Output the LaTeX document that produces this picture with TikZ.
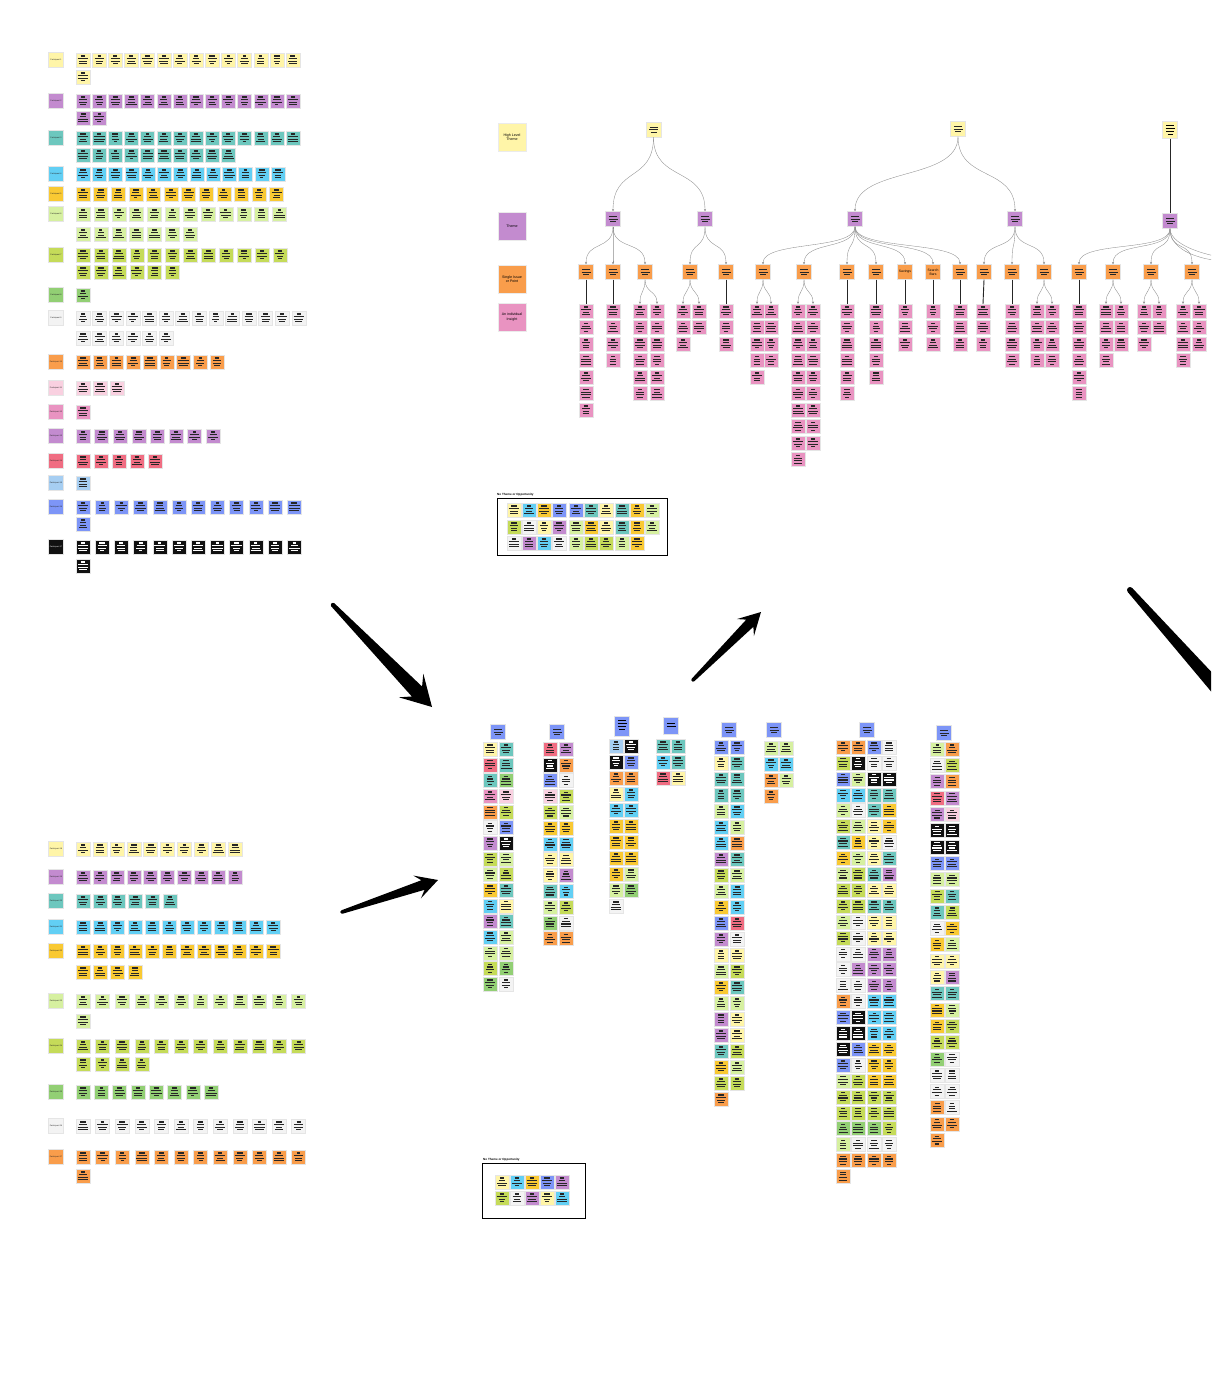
\documentclass[tikz,border=0pt]{standalone}
\usepackage{fontspec}
\setmainfont{Liberation Sans}
\usetikzlibrary{arrows.meta}
\definecolor{nY}{HTML}{FFF5A8}
\definecolor{nP}{HTML}{C38BCF}
\definecolor{nT}{HTML}{6DC7BE}
\definecolor{nC}{HTML}{62CFF4}
\definecolor{nO}{HTML}{F9C933}
\definecolor{nL}{HTML}{D6F0A0}
\definecolor{nG}{HTML}{C5DB59}
\definecolor{nN}{HTML}{92CF74}
\definecolor{nW}{HTML}{F3F3F3}
\definecolor{nR}{HTML}{F99D4B}
\definecolor{nS}{HTML}{F9D0E0}
\definecolor{nK}{HTML}{E993C1}
\definecolor{nE}{HTML}{F06D82}
\definecolor{nA}{HTML}{A6CEF2}
\definecolor{nB}{HTML}{7D95F7}
\definecolor{nZ}{HTML}{111111}
\colorlet{tY}{black!85}\colorlet{tP}{black!85}\colorlet{tT}{black!85}\colorlet{tC}{black!85}
\colorlet{tO}{black!85}\colorlet{tL}{black!85}\colorlet{tG}{black!85}\colorlet{tN}{black!85}
\colorlet{tW}{black!85}\colorlet{tR}{black!85}\colorlet{tS}{black!85}\colorlet{tK}{black!85}
\colorlet{tE}{black!85}\colorlet{tA}{black!85}\colorlet{tB}{black!85}\colorlet{tZ}{white}
\tikzset{
  note/.style={rectangle,minimum size=14,inner sep=0,draw=black!10,line width=0.3},
  tnode/.style={rectangle,minimum size=15,inner sep=0,draw=black!10,line width=0.3},
  lab/.style={rectangle,minimum size=15,inner sep=0,draw=black!10,line width=0.3,font=\fontsize{2}{2.4}\selectfont},
  leg/.style={rectangle,minimum size=28,inner sep=0,draw=black!8,line width=0.3,align=center,font=\fontsize{3.6}{4.2}\selectfont},
  mk/.style={line width=1.15},
  cur/.style={draw=black!45,line width=0.35,-{Stealth[length=2.4,width=2.2]}},
  stem/.style={draw=black!85,line width=0.9},
  boxlabel/.style={anchor=south west,inner sep=0,font=\fontsize{3}{3.5}\selectfont\bfseries},
  nobox/.style={draw=black,line width=1,rectangle,inner sep=0}
}
\pgfmathsetseed{11}
% sticky note with text-like marks of varied length
\newcommand\snote[4]{%
  \node[note,fill=n#4] (#1) at (#2,#3) {};
  \pgfmathsetmacro\ma{1.5+1.5*rnd}%
  \pgfmathsetmacro\mb{3+2.5*rnd}%
  \pgfmathsetmacro\mc{3+2.5*rnd}%
  \pgfmathsetmacro\md{1.5+4*rnd}%
  \draw[mk,draw=t#4] ({#2-\ma},{#3-4}) -- ({#2+\ma},{#3-4}) ({#2-\mb},{#3-1.4}) -- ({#2+\mb},{#3-1.4}) ({#2-\mc},{#3+1.2}) -- ({#2+\mc},{#3+1.2}) ({#2-\md},{#3+3.8}) -- ({#2+\md},{#3+3.8});}
\newcommand\tnote[4]{%
  \node[tnode,fill=n#4] (#1) at (#2,#3) {};
  \draw[mk,line width=0.9,draw=t#4] ({#2-4},{#3-2.5}) -- ({#2+4},{#3-2.5}) ({#2-4.5},{#3}) -- ({#2+4.5},{#3}) ({#2-3},{#3+2.5}) -- ({#2+3},{#3+2.5});}
% left panel rows
\newcommand\lrow[6]{%
  \node[lab,fill=n#4,text=t#4] (#1) at (56,#2) {#3};
  \foreach \i in {1,...,#5}{\pgfmathsetmacro\xx{83+(\i-1)*#6}\snote{#1-\i}{\xx}{#2}{#4}}}
\newcommand\lrowb[5]{%
  \foreach \i in {1,...,#4}{\pgfmathsetmacro\xx{83+(\i-1)*#5}\snote{#1-\i}{\xx}{#2}{#3}}}
% vertical columns of notes
\newcommand\mcol[5]{%
  \foreach \cc [count=\i] in {#5}{\pgfmathsetmacro\yy{#3+(\i-1)*#4}\snote{#1-\i}{#2}{\yy}{\cc}}}
\newcommand\pcol[3]{%
  \foreach \i in {1,...,#3}{\pgfmathsetmacro\yy{311+(\i-1)*16.5}\snote{#1-\i}{#2}{\yy}{K}}}
\newcommand\tcurve[3]{\draw[cur] (#1.south) .. controls +(0,#3) and +(0,-#3) .. (#2.north);}
\newcommand\tstem[2]{\draw[stem] (#1.south) -- (#2.north);}
% big tapered arrow: tail x,y ; tip x,y ; head half width ; head length ; tail half width
\newcommand\bigarrow[7]{%
  \pgfmathsetmacro\arx{#1}\pgfmathsetmacro\ary{#2}%
  \pgfmathsetmacro\ardx{#3-#1}\pgfmathsetmacro\ardy{#4-#2}%
  \pgfmathsetmacro\arL{veclen(\ardx,\ardy)}%
  \pgfmathsetmacro\arux{\ardx/\arL}\pgfmathsetmacro\aruy{\ardy/\arL}%
  \pgfmathsetmacro\arhw{#5}\pgfmathsetmacro\arhl{#6}\pgfmathsetmacro\art{#7}%
  \pgfmathsetmacro\arsa{\arL-0.72*\arhl}\pgfmathsetmacro\arsb{\arL-\arhl}%
  \pgfmathsetmacro\arwa{0.42*\arhw}%
  \fill[black] ({\arx-\art*\aruy},{\ary+\art*\arux})
    -- ({\arx+\arsa*\arux-\arwa*\aruy},{\ary+\arsa*\aruy+\arwa*\arux})
    -- ({\arx+\arsb*\arux-\arhw*\aruy},{\ary+\arsb*\aruy+\arhw*\arux})
    -- (#3,#4)
    -- ({\arx+\arsb*\arux+\arhw*\aruy},{\ary+\arsb*\aruy-\arhw*\arux})
    -- ({\arx+\arsa*\arux+\arwa*\aruy},{\ary+\arsa*\aruy-\arwa*\arux})
    -- ({\arx+\art*\aruy},{\ary-\art*\arux}) -- cycle;
  \fill[black] (#1,#2) circle[radius=#7];}
\begin{document}
\begin{tikzpicture}[x=1pt,y=-1pt]
\useasboundingbox (0,0) rectangle (1211,1388);
\fill[white] (0,0) rectangle (1211,1388);
\clip (0,0) rectangle (1211,1388);

% ================= top-left panel =================
\lrow{p1}{60}{Participant 1}{Y}{14}{16.15}
\lrowb{p1b}{77}{Y}{1}{16.15}
\lrow{p2}{101}{Participant 2}{P}{14}{16.15}
\lrowb{p2b}{118}{P}{2}{16.15}
\lrow{p3}{138}{Participant 3}{T}{14}{16.15}
\lrowb{p3b}{155}{T}{10}{16.15}
\lrow{p4}{174}{Participant 4}{C}{13}{16.25}
\lrow{p5}{194}{Participant 5}{O}{12}{17.6}
\lrow{p6}{214}{Participant 6}{L}{12}{17.85}
\lrowb{p6b}{234}{L}{7}{17.85}
\lrow{p7}{255}{Participant 7}{G}{12}{17.9}
\lrowb{p7b}{272}{G}{6}{17.9}
\lrow{p8}{295}{Participant 8}{N}{1}{17}
\lrow{p9}{318}{Participant 9}{W}{14}{16.6}
\lrowb{p9b}{338}{W}{6}{16.6}
\lrow{p10}{362}{Participant 10}{R}{9}{16.75}
\lrow{p11}{388}{Participant 11}{S}{3}{17}
\lrow{p12}{412}{Participant 12}{K}{1}{17}
\lrow{p13}{436}{Participant 13}{P}{8}{18.6}
\lrow{p14}{461}{Participant 14}{E}{5}{18}
\lrow{p15}{483}{Participant 15}{A}{1}{17}
\lrow{p16}{507}{Participant 16}{B}{12}{19.2}
\lrowb{p16b}{524}{B}{1}{19.2}
\lrow{p17}{547}{Participant 17}{Z}{12}{19.2}
\lrowb{p17b}{566}{Z}{1}{19.2}

% ================= bottom-left panel =================
\lrow{q1}{849}{Participant 18}{Y}{10}{16.9}
\lrow{q2}{877}{Participant 19}{P}{10}{16.9}
\lrow{q3}{901}{Participant 20}{T}{6}{17.4}
\lrow{q4}{927}{Participant 21}{C}{12}{17.3}
\lrow{q5}{951}{Participant 22}{O}{12}{17.3}
\lrowb{q5b}{972}{O}{4}{17.3}
\lrow{q6}{1001}{Participant 23}{L}{12}{19.6}
\lrowb{q6b}{1021}{L}{1}{19.6}
\lrow{q7}{1046}{Participant 24}{G}{12}{19.6}
\lrowb{q7b}{1064}{G}{4}{19.6}
\lrow{q8}{1092}{Participant 25}{N}{8}{18.3}
\lrow{q9}{1126}{Participant 26}{W}{12}{19.6}
\lrow{q10}{1157}{Participant 27}{R}{12}{19.6}
\lrowb{q10b}{1176}{R}{1}{19.6}

% ================= big arrows =================
\bigarrow{333}{605}{432}{707}{17}{30}{2.2}
\bigarrow{342}{912}{438}{880}{12}{22}{1.8}
\bigarrow{693}{680}{761}{612}{12}{22}{1.8}
\bigarrow{1130}{590}{1290}{770}{22}{40}{3}

% ================= middle clusters =================
\tnote{g1}{498}{732}{B}
\mcol{g1a}{490}{749}{15.67}{Y,E,T,K,R,W,P,G,L,O,C,P,C,L,G,N}
\mcol{g1b}{506}{749}{15.67}{T,T,N,S,G,B,Z,L,G,T,Y,T,L,L,N,W}
\tnote{g2}{557}{732}{B}
\mcol{g2a}{550}{749}{15.8}{E,Z,B,S,G,O,C,Y,Y,T,L,N,R}
\mcol{g2b}{566}{749}{15.8}{P,R,W,G,L,O,C,Y,P,C,G,W,R}
\node[tnode,fill=nB,minimum height=20] (g3) at (622,726) {};
\draw[mk,line width=0.9] (618,720) -- (626,720) (617.5,723) -- (626.5,723) (618,726) -- (626,726) (619,729) -- (625,729);
\mcol{g3a}{616}{746}{16}{A,Z,R,Y,C,O,O,O,O,L,W}
\mcol{g3b}{631}{746}{16}{Z,B,R,C,C,O,O,O,L,N}
\node[tnode,fill=nB,minimum height=17] (g4) at (671,726) {};
\draw[mk,line width=0.9] (667,723) -- (675,723) (666.5,726) -- (675.5,726);
\mcol{g4a}{663}{746}{16}{T,C,E}
\mcol{g4b}{678}{746}{16}{T,T,Y}
\tnote{g5}{729}{730}{B}
\mcol{g5a}{721}{747}{16}{B,Y,T,T,L,C,C,P,G,L,O,B,P,Y,L,O,L,P,P,T,O,G,R}
\mcol{g5b}{737}{747}{16}{B,T,T,T,C,L,R,T,L,C,C,E,W,Y,G,T,L,Y,Y,G,L,G}
\tnote{g6}{774}{730}{B}
\mcol{g6a}{771}{748}{16}{L,C,R,R}
\mcol{g6b}{786}{748}{16}{L,C,L}
\tnote{g7}{867}{730}{B}
\mcol{g7a}{843}{747}{15.9}{R,G,B,C,L,G,T,O,L,G,G,L,G,W,W,W,R,B,Z,Z,B,L,G,G,N,L,R,R}
\mcol{g7b}{858}{747}{15.9}{R,Z,L,C,W,L,O,L,G,G,G,W,W,W,P,W,W,Z,Z,B,W,G,G,G,N,W,R}
\mcol{g7c}{874}{747}{15.9}{B,W,Z,T,T,Y,Y,Y,T,Y,T,Y,Y,P,P,P,C,C,C,O,O,O,G,G,N,W,R}
\mcol{g7d}{889}{747}{15.9}{W,W,Z,T,O,O,W,T,P,Y,T,Y,Y,P,P,P,C,C,C,O,O,O,G,G,G,W,R}
\tnote{g8}{944}{733}{B}
\mcol{g8a}{937}{749}{16.3}{L,W,P,E,P,Z,Z,B,L,G,T,W,O,Y,Y,T,O,O,G,N,W,W,R,R,R}
\mcol{g8b}{952}{749}{16.3}{R,G,R,P,S,Z,Z,B,L,T,G,O,L,Y,P,T,L,G,G,W,W,W,W,R}

% ================= "No Theme" boxes =================
\node[boxlabel] (nt1) at (497,496.5) {No Theme or Opportunity};
\node[nobox,minimum width=170,minimum height=57] (box1) at (582,526.5) {};
\foreach \xx/\cc [count=\i] in {514/Y,529/C,544/O,559/B,576/B,591/T,606/Y,622/T,637/O,652/L}{\snote{na\i}{\xx}{510}{\cc}}
\foreach \xx/\cc [count=\i] in {514/G,529/W,544/Y,559/P,576/L,591/O,606/Y,622/T,637/O,652/L}{\snote{nb\i}{\xx}{527}{\cc}}
\foreach \xx/\cc [count=\i] in {514/W,529/P,544/C,559/W,576/L,591/G,606/G,622/L,637/O}{\snote{nc\i}{\xx}{543}{\cc}}
\node[boxlabel] (nt2) at (483,1161) {No Theme or Opportunity};
\node[nobox,minimum width=103,minimum height=55] (box2) at (533.5,1190.5) {};
\foreach \xx/\cc [count=\i] in {502/Y,517/C,532/O,547/B,562/P}{\snote{nd\i}{\xx}{1182}{\cc}}
\foreach \xx/\cc [count=\i] in {502/G,517/W,532/P,547/Y,562/C}{\snote{ne\i}{\xx}{1198}{\cc}}

% ================= tree: legend =================
\node[leg,fill=nY] (LH) at (512,137) {High Level\\Theme};
\node[leg,fill=nP] (LT) at (512,226.5) {Theme};
\node[leg,fill=nR] (LS) at (512,279) {Single Issue\\or Point};
\node[leg,fill=nK] (LI) at (512,317) {An individual\\Insight};

% ================= tree: nodes =================
\tnote{H1}{653.5}{129.5}{Y}
\tnote{H2}{958}{129}{Y}
\node[tnode,fill=nY,minimum height=17] (H3) at (1170,130) {};
\draw[mk,line width=0.9] (1166,125) -- (1174,125) (1165.5,128) -- (1174.5,128) (1166,131) -- (1174,131) (1167.5,134) -- (1172.5,134);
\tnote{T1}{613}{219}{P}
\tnote{T2}{705}{219}{P}
\tnote{T3}{855}{219}{P}
\tnote{T4}{1015}{219}{P}
\tnote{T5}{1170}{221}{P}
\foreach \nm/\xx in {S1/586,S2/613,S3/645,S4/690,S5/726,S6/763,S7/804,S8/847,S9/876,S12/960,S13/984,S14/1012,S15/1044,S16/1079,S17/1113,S18/1151,S19/1192}{\tnote{\nm}{\xx}{272}{R}}
\node[tnode,fill=nR,font=\fontsize{3.4}{3.8}\selectfont] (S10) at (905,272) {Savings};
\node[tnode,fill=nR,align=center,font=\fontsize{3.4}{3.8}\selectfont] (S11) at (933,272) {Search\\Bars};
\coordinate (X1) at (1240,262);
\coordinate (X2) at (1275,262);

% pink insight columns
\pcol{s1}{586}{7}
\pcol{s2}{613}{4}
\pcol{s3a}{640}{6}\pcol{s3b}{657}{6}
\pcol{s4a}{683}{3}\pcol{s4b}{699}{2}
\pcol{s5}{726}{3}
\pcol{s6a}{757}{5}\pcol{s6b}{771}{4}
\pcol{s7a}{798}{10}\pcol{s7b}{813}{9}
\pcol{s8}{847}{6}
\pcol{s9}{876}{5}
\pcol{s10}{905}{3}
\pcol{s11}{933}{3}
\pcol{s12}{960}{3}
\pcol{s13}{983}{3}
\pcol{s14}{1012}{4}
\pcol{s15a}{1037}{4}\pcol{s15b}{1052}{4}
\pcol{s16}{1079}{6}
\pcol{s17a}{1106}{4}\pcol{s17b}{1121}{3}
\pcol{s18a}{1144}{3}\pcol{s18b}{1159}{2}
\pcol{s19a}{1183}{4}\pcol{s19b}{1199}{3}

% ================= tree: connectors =================
\tcurve{H1}{T1}{45}\tcurve{H1}{T2}{45}
\tcurve{H2}{T3}{45}\tcurve{H2}{T4}{45}
\tstem{H3}{T5}
\foreach \ch in {S1,S2,S3}{\tcurve{T1}{\ch}{24}}
\foreach \ch in {S4,S5}{\tcurve{T2}{\ch}{24}}
\foreach \ch in {S6,S7,S8,S9,S10,S11,S12}{\tcurve{T3}{\ch}{24}}
\foreach \ch in {S13,S14,S15}{\tcurve{T4}{\ch}{24}}
\foreach \ch in {S16,S17,S18,S19}{\tcurve{T5}{\ch}{24}}
\draw[draw=black!45,line width=0.35] (T5.south) .. controls +(0,22) and +(-40,0) .. (X1);
\draw[draw=black!45,line width=0.35] (T5.south) .. controls +(0,18) and +(-60,0) .. (X2);
\tstem{S1}{s1-1}
\tstem{S2}{s2-1}
\tcurve{S3}{s3a-1}{13}\tcurve{S3}{s3b-1}{13}
\tcurve{S4}{s4a-1}{13}\tcurve{S4}{s4b-1}{13}
\tstem{S5}{s5-1}
\tcurve{S6}{s6a-1}{13}\tcurve{S6}{s6b-1}{13}
\tcurve{S7}{s7a-1}{13}\tcurve{S7}{s7b-1}{13}
\tstem{S8}{s8-1}
\tstem{S9}{s9-1}
\tstem{S10}{s10-1}
\tstem{S11}{s11-1}
\tstem{S12}{s12-1}
\tstem{S13}{s13-1}
\tstem{S14}{s14-1}
\tcurve{S15}{s15a-1}{13}\tcurve{S15}{s15b-1}{13}
\tstem{S16}{s16-1}
\tcurve{S17}{s17a-1}{13}\tcurve{S17}{s17b-1}{13}
\tcurve{S18}{s18a-1}{13}\tcurve{S18}{s18b-1}{13}
\tcurve{S19}{s19a-1}{13}\tcurve{S19}{s19b-1}{13}
\end{tikzpicture}
\end{document}
